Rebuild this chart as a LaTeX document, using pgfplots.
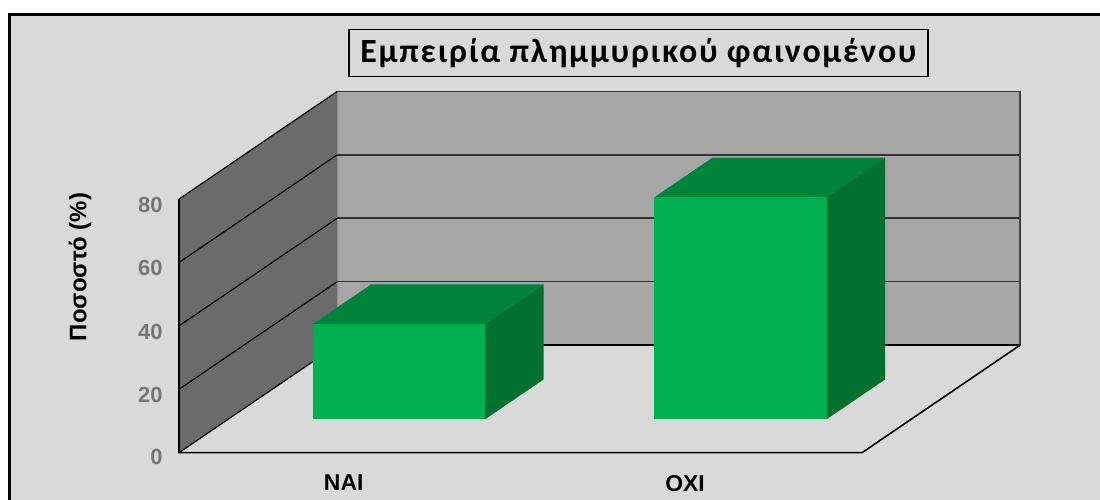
\documentclass[border=0pt]{standalone}
\usepackage{fontspec}
\setmainfont{Liberation Sans}
\newfontfamily\titlefont[LetterSpace=5]{Carlito}
\usepackage{pgfplots}
\pgfplotsset{compat=1.18}

\definecolor{bg}{HTML}{D9D9D9}
\definecolor{backwall}{HTML}{A6A6A6}
\definecolor{sidewall}{HTML}{6B6B6B}
\definecolor{barfront}{HTML}{00B050}
\definecolor{bartop}{HTML}{00843C}
\definecolor{barside}{HTML}{00702F}
\definecolor{ticktext}{HTML}{767676}

\begin{document}
\begin{tikzpicture}
% chart area and its frame
\fill[white] (0bp,0bp) rectangle (1100bp,500bp);
\fill[bg] (9bp,0bp) rectangle (1100bp,485bp);
\draw[line width=3bp] (9bp,0bp) -- (9bp,485bp) -- (1100bp,485bp);

\begin{axis}[
    at={(179bp,47.3bp)}, anchor=origin,
    x={(341.5bp,0bp)}, y={(158.3bp,107.7bp)}, z={(0bp,3.17bp)},
    xmin=0, xmax=2, ymin=0, ymax=1, zmin=0, zmax=80,
    axis line style={draw=none},
    major tick length=0pt,
    xtick={0.5,1.5}, xticklabels={ΝΑΙ,ΟΧΙ},
    ytick=\empty,
    ztick={0,20,40,60,80},
    /pgf/number format/assume math mode=true,
    xticklabel style={font=\fontsize{23}{25}\selectfont\bfseries, yshift=-19bp},
    zticklabel style={font=\fontsize{22}{24}\selectfont\bfseries, text=ticktext, xshift=-13bp, yshift=-1bp},
    clip=false,
]

% walls
\addplot3[fill=backwall, draw=none] coordinates {(0,1,0) (2,1,0) (2,1,80) (0,1,80)} -- cycle;
\addplot3[fill=sidewall, draw=none] coordinates {(0,0,0) (0,1,0) (0,1,80) (0,0,80)} -- cycle;

% gridlines
\addplot3[draw=black!80, line width=1.6bp] coordinates {(0,1,20) (2,1,20)};
\addplot3[draw=black!80, line width=1.6bp] coordinates {(0,1,40) (2,1,40)};
\addplot3[draw=black!80, line width=1.6bp] coordinates {(0,1,60) (2,1,60)};
\addplot3[draw=black!80, line width=1.6bp] coordinates {(0,1,80) (2,1,80)};
\addplot3[draw=black, line width=1.2bp] coordinates {(0,0,20) (0,1,20)};
\addplot3[draw=black, line width=1.2bp] coordinates {(0,0,40) (0,1,40)};
\addplot3[draw=black, line width=1.2bp] coordinates {(0,0,60) (0,1,60)};
\addplot3[draw=black, line width=1.2bp] coordinates {(0,0,80) (0,1,80)};

% edges
\addplot3[draw=black, line width=1.6bp] coordinates {(0,1,0) (2,1,0)};
\addplot3[draw=black!75, line width=2.2bp] coordinates {(2,1,0) (2,1,80)};
\addplot3[draw=black, line width=1.2bp] coordinates {(0,0,0) (0,1,0)};
\addplot3[draw=black, line width=1.6bp] coordinates {(0,0,80) (0,0,0) (2,0,0) (2,1,0)};

% NAI = 30
\addplot3[fill=bartop, draw=none] coordinates {(0.2475,0.31,30) (0.7525,0.31,30) (0.7525,0.68,30) (0.2475,0.68,30)} -- cycle;
\addplot3[fill=barside, draw=none] coordinates {(0.7525,0.31,0) (0.7525,0.68,0) (0.7525,0.68,30) (0.7525,0.31,30)} -- cycle;
\addplot3[fill=barfront, draw=none] coordinates {(0.2475,0.31,0) (0.7525,0.31,0) (0.7525,0.31,30) (0.2475,0.31,30)} -- cycle;

% OXI = 70
\addplot3[fill=bartop, draw=none] coordinates {(1.2475,0.31,70) (1.7525,0.31,70) (1.7525,0.68,70) (1.2475,0.68,70)} -- cycle;
\addplot3[fill=barside, draw=none] coordinates {(1.7525,0.31,0) (1.7525,0.68,0) (1.7525,0.68,70) (1.7525,0.31,70)} -- cycle;
\addplot3[fill=barfront, draw=none] coordinates {(1.2475,0.31,0) (1.7525,0.31,0) (1.7525,0.31,70) (1.2475,0.31,70)} -- cycle;

\end{axis}

% title and axis title
\node[draw=black, line width=1.5bp, fill=bg, minimum width=579bp, minimum height=47bp, inner sep=0pt,
      font=\titlefont\bfseries\fontsize{34}{38}\selectfont] at (638.5bp,447bp) {Εμπειρία πλημμυρικού φαινομένου};
\node[rotate=90, font=\bfseries\fontsize{24}{26}\selectfont] at (80bp,233bp) {Ποσοστό (\%)};

\pgfresetboundingbox
\path[use as bounding box] (0bp,0bp) rectangle (1100bp,500bp);
\end{tikzpicture}
\end{document}
